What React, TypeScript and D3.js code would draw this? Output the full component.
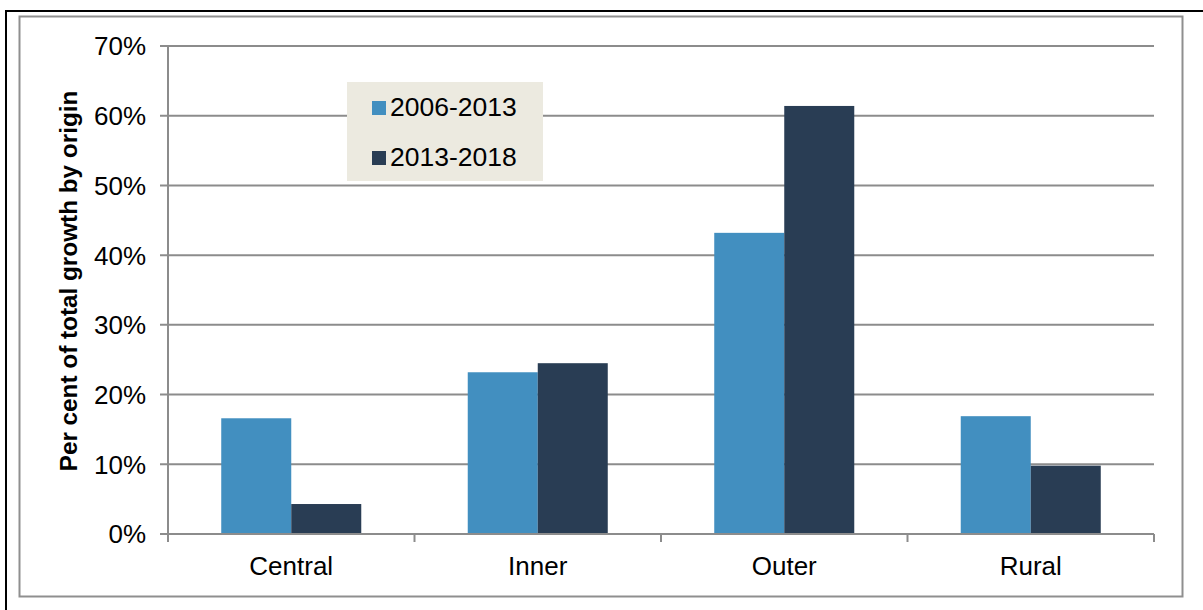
import React from "react";
import * as d3 from "d3";

const categories = ["Central", "Inner", "Outer", "Rural"];
const seriesNames = ["2006-2013", "2013-2018"];
const values2006 = [16.6, 23.2, 43.2, 16.9];
const values2013 = [4.3, 24.5, 61.4, 9.8];
const yTicks = [0, 10, 20, 30, 40, 50, 60, 70];
const colors = ["#428FC0", "#293D54"];

const W = 1203;
const H = 610;
const left = 168;
const right = 1154;
const top = 46;
const bottom = 534;
const font = "Liberation Sans, Arial, sans-serif";

export default function App() {
  const x0 = d3.scaleBand<string>().domain(categories).range([left, right]).paddingInner(0.432).paddingOuter(0.216);
  const x1 = d3.scaleBand<string>().domain(seriesNames).range([0, x0.bandwidth()]);
  const y = d3.scaleLinear().domain([0, 70]).range([bottom, top]);
  const series = [values2006, values2013];
  const step = x0.step();
  return (
    <svg width={W} height={H} style={{ position: "absolute", left: 0, top: 0, display: "block" }}>
      <rect x={0} y={0} width={W} height={H} fill="#fff" />
      <rect x={6} y={11} width={W + 10} height={H + 10} fill="none" stroke="#000" strokeWidth={2} />
      <rect x={19.5} y={16.5} width={1163} height={580} fill="#fff" stroke="#8f8f8f" strokeWidth={2} />
      {yTicks.map((t) => (
        <g key={t}>
          <line x1={left - 8} x2={right} y1={y(t)} y2={y(t)} stroke="#8c8c8c" strokeWidth={2} />
          <text x={left - 22} y={y(t)} dy="0.36em" textAnchor="end" fontFamily={font} fontSize={26} fill="#000">
            {t}%
          </text>
        </g>
      ))}
      {categories.map((c, i) =>
        series.map((vals, s) => (
          <rect
            key={c + s}
            x={(x0(c) as number) + (x1(seriesNames[s]) as number)}
            y={y(vals[i])}
            width={x1.bandwidth()}
            height={y(0) - y(vals[i])}
            fill={colors[s]}
          />
        ))
      )}
      <line x1={left} x2={left} y1={top} y2={bottom + 8} stroke="#8c8c8c" strokeWidth={2} />
      <line x1={left} x2={right} y1={bottom} y2={bottom} stroke="#8c8c8c" strokeWidth={2} />
      {categories.map((c, i) => (
        <line key={"t" + c} x1={left + step * (i + 1)} x2={left + step * (i + 1)} y1={bottom} y2={bottom + 8} stroke="#8c8c8c" strokeWidth={2} />
      ))}
      {categories.map((c) => (
        <text key={"l" + c} x={(x0(c) as number) + x0.bandwidth() / 2} y={575} textAnchor="middle" fontFamily={font} fontSize={26} fill="#000">
          {c}
        </text>
      ))}
      <text
        transform={`translate(77, 281) rotate(-90)`}
        textAnchor="middle"
        fontFamily={font}
        fontSize={24.3}
        fontWeight="bold"
        fill="#000"
      >
        Per cent of total growth by origin
      </text>
      <rect x={347} y={82} width={196} height={99} fill="#ECEAE0" />
      {seriesNames.map((s, i) => (
        <g key={s}>
          <rect x={372} y={101 + i * 50} width={14} height={14} fill={colors[i]} />
          <text x={390} y={116 + i * 50} fontFamily={font} fontSize={26.5} fill="#000">
            {s}
          </text>
        </g>
      ))}
    </svg>
  );
}
